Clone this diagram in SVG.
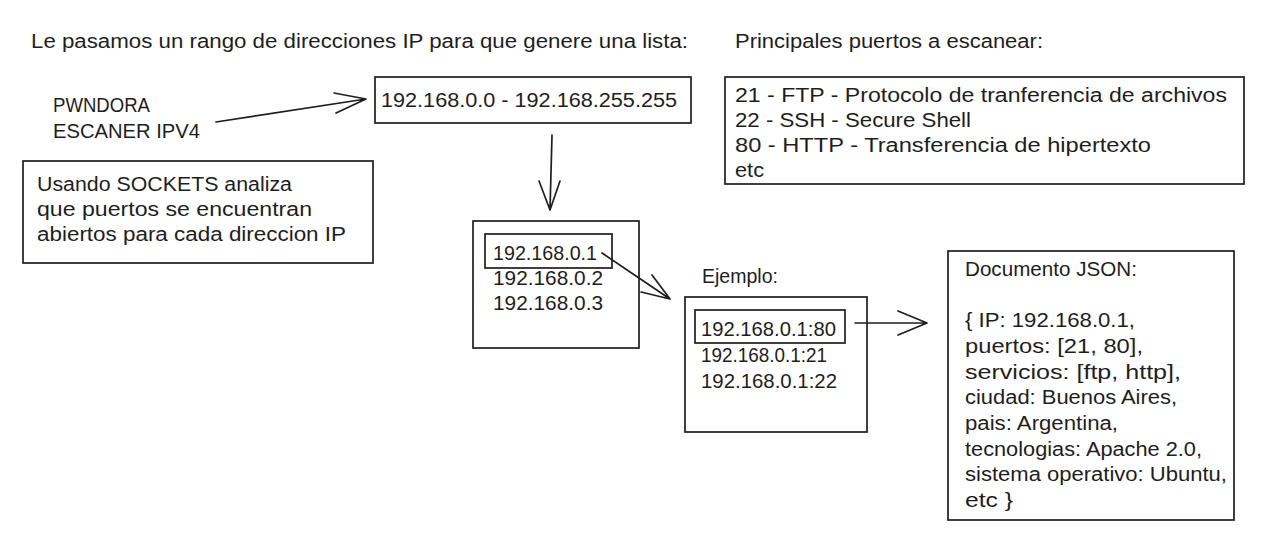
<svg xmlns="http://www.w3.org/2000/svg" width="1261" height="537" viewBox="0 0 1261 537">
<style>
  text { font-family: "Liberation Sans", Arial, sans-serif; font-size: 20px; fill: #1e1e1e; }
  .box { fill: none; stroke: #1e1e1e; stroke-width: 1.7; }
  .conn { fill: none; stroke: #1e1e1e; stroke-width: 1.7; stroke-linecap: round; stroke-linejoin: round; }
</style>
<rect width="1261" height="537" fill="#ffffff"/>

<g id="title-range">
  <text x="31" y="48" textLength="657" lengthAdjust="spacingAndGlyphs">Le pasamos un rango de direcciones IP para que genere una lista:</text>
</g>
<g id="title-ports">
  <text x="735" y="48" textLength="308" lengthAdjust="spacingAndGlyphs">Principales puertos a escanear:</text>
</g>

<g id="pwndora">
  <text x="53" y="112" textLength="97" lengthAdjust="spacingAndGlyphs">PWNDORA</text>
  <text x="53" y="138" textLength="147" lengthAdjust="spacingAndGlyphs">ESCANER IPV4</text>
</g>

<g id="sockets-note">
  <rect class="box" x="23" y="161" width="350" height="102"/>
  <text x="37" y="191" textLength="255" lengthAdjust="spacingAndGlyphs">Usando SOCKETS analiza</text>
  <text x="37" y="216" textLength="275" lengthAdjust="spacingAndGlyphs">que puertos se encuentran</text>
  <text x="37" y="241" textLength="309" lengthAdjust="spacingAndGlyphs">abiertos para cada direccion IP</text>
</g>

<g id="range-box">
  <rect class="box" x="375" y="77" width="316" height="46"/>
  <text x="381" y="107" textLength="296" lengthAdjust="spacingAndGlyphs">192.168.0.0 - 192.168.255.255</text>
</g>

<g id="ports-box">
  <rect class="box" x="725" y="77" width="519" height="107"/>
  <text x="735" y="102" textLength="492" lengthAdjust="spacingAndGlyphs">21 - FTP - Protocolo de tranferencia de archivos</text>
  <text x="735" y="127" textLength="236" lengthAdjust="spacingAndGlyphs">22 - SSH - Secure Shell</text>
  <text x="735" y="152" textLength="416" lengthAdjust="spacingAndGlyphs">80 - HTTP - Transferencia de hipertexto</text>
  <text x="735" y="177" textLength="29" lengthAdjust="spacingAndGlyphs">etc</text>
</g>

<g id="ip-list">
  <rect class="box" x="473" y="221" width="166" height="127"/>
  <rect class="box" x="485" y="234" width="127" height="34"/>
  <text x="493" y="260" textLength="104" lengthAdjust="spacingAndGlyphs">192.168.0.1</text>
  <text x="493" y="285" textLength="110" lengthAdjust="spacingAndGlyphs">192.168.0.2</text>
  <text x="493" y="310" textLength="110" lengthAdjust="spacingAndGlyphs">192.168.0.3</text>
</g>

<g id="ejemplo">
  <text x="702" y="283" textLength="76" lengthAdjust="spacingAndGlyphs">Ejemplo:</text>
  <rect class="box" x="685" y="297" width="182" height="135"/>
  <rect class="box" x="695" y="310" width="150" height="33"/>
  <text x="701" y="336" textLength="135" lengthAdjust="spacingAndGlyphs">192.168.0.1:80</text>
  <text x="701" y="362" textLength="126" lengthAdjust="spacingAndGlyphs">192.168.0.1:21</text>
  <text x="701" y="388" textLength="136" lengthAdjust="spacingAndGlyphs">192.168.0.1:22</text>
</g>

<g id="json-doc">
  <rect class="box" x="948" y="251" width="286" height="269"/>
  <text x="965" y="276" textLength="172" lengthAdjust="spacingAndGlyphs">Documento JSON:</text>
  <text x="965" y="327" textLength="170" lengthAdjust="spacingAndGlyphs">{ IP: 192.168.0.1,</text>
  <text x="965" y="353" textLength="178" lengthAdjust="spacingAndGlyphs">puertos: [21, 80],</text>
  <text x="965" y="379" textLength="216" lengthAdjust="spacingAndGlyphs">servicios: [ftp, http],</text>
  <text x="965" y="404" textLength="212" lengthAdjust="spacingAndGlyphs">ciudad: Buenos Aires,</text>
  <text x="965" y="430" textLength="153" lengthAdjust="spacingAndGlyphs">pais: Argentina,</text>
  <text x="965" y="456" textLength="237" lengthAdjust="spacingAndGlyphs">tecnologias: Apache 2.0,</text>
  <text x="965" y="481" textLength="262" lengthAdjust="spacingAndGlyphs">sistema operativo: Ubuntu,</text>
  <text x="965" y="507" textLength="48" lengthAdjust="spacingAndGlyphs">etc }</text>
</g>

<g id="connectors">
  <path class="conn" d="M216 122 L366 99 M334 93 L366 99 L336 113"/>
  <path class="conn" d="M552 135 L550 210 M539 181 L550 210 L560 181"/>
  <path class="conn" d="M602 253 L670 299 M652 275 L670 299 L641 292"/>
  <path class="conn" d="M855 323 L927 323 M898 311 L927 323 L898 335"/>
</g>
</svg>
